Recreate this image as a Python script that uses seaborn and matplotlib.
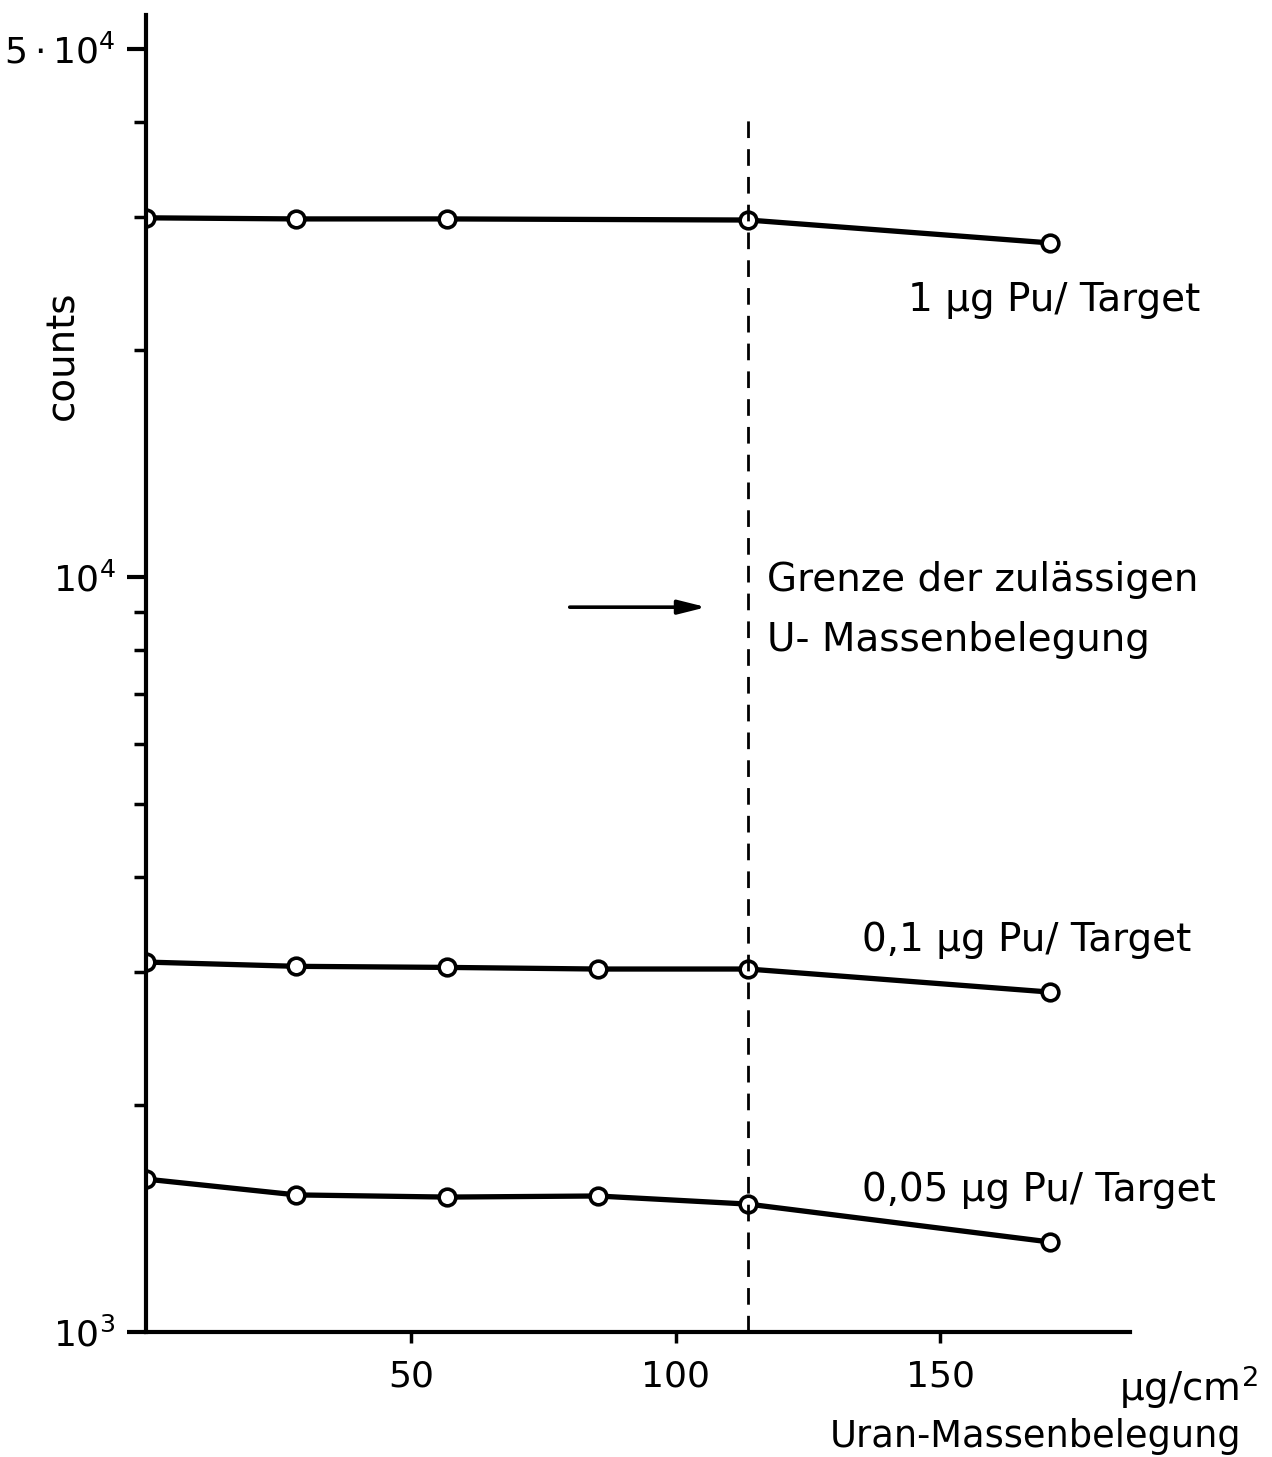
import matplotlib
matplotlib.use("Agg")
import matplotlib.pyplot as plt
import matplotlib.ticker as mticker
import seaborn as sns
import pandas as pd
import numpy as np

# ---- data ----
x_top = [0, 28.4, 56.8, 113.7, 170.6]
y_top = [29900, 29800, 29800, 29700, 27700]

x_mid = [0, 28.4, 56.8, 85.3, 113.7, 170.6]
y_mid = [3090, 3050, 3040, 3025, 3025, 2820]

x_low = [0, 28.4, 56.8, 85.3, 113.7, 170.6]
y_low = [1594, 1519, 1509, 1514, 1477, 1316]

series_labels = ["1 µg Pu/ Target", "0,1 µg Pu/ Target", "0,05 µg Pu/ Target"]
limit_x = 113.7
x_ticks = [50, 100, 150]
y_major = [1e3, 1e4, 5e4]
y_major_labels = [r"$10^3$", r"$10^4$", r"$5\cdot10^4$"]
y_minor = [2000, 3000, 4000, 5000, 6000, 7000, 8000, 9000, 20000, 30000, 40000]

sns.set_theme(style="ticks")
plt.rcParams['font.family'] = ['DejaVu Sans']
plt.rcParams['mathtext.fontset'] = 'dejavusans'
plt.rcParams['text.color'] = 'black'
plt.rcParams['axes.labelcolor'] = 'black'
plt.rcParams['xtick.color'] = 'black'
plt.rcParams['ytick.color'] = 'black'

fig = plt.figure(figsize=(12.72, 14.57), dpi=100)
ax = fig.add_axes([0.1148, 0.0858, 0.888 - 0.1148, 0.9897 - 0.0858])

frames = []
for name, xs, ys in zip(series_labels, [x_top, x_mid, x_low], [y_top, y_mid, y_low]):
    frames.append(pd.DataFrame({"x": xs, "y": ys, "s": name}))
df = pd.concat(frames, ignore_index=True)

for name in series_labels:
    sub = df[df.s == name]
    sns.lineplot(data=sub, x="x", y="y", ax=ax, color="black", linewidth=3.8,
                 marker="o", markersize=12, markerfacecolor="white",
                 markeredgecolor="black", markeredgewidth=2.6, legend=False)

ax.set_yscale("log")
ax.set_xlim(0, 185.7)
ax.set_ylim(1000, 55500)

# dashed limit line
ax.plot([limit_x, limit_x], [1000, 40300], color="black", linewidth=2,
        linestyle=(0, (6, 4)))

# arrow
ax.annotate("", xy=(105.8, 9120), xytext=(80, 9120),
            arrowprops=dict(arrowstyle="-|>,head_length=1.4,head_width=0.35",
                            color="black", linewidth=2.6, shrinkA=0, shrinkB=0))

ax.text(117.3, 9900, "Grenze der zulässigen", fontsize=28, ha="left", va="center")
ax.text(117.3, 8250, "U- Massenbelegung", fontsize=28, ha="left", va="center")

ax.text(143.8, 23300, series_labels[0], fontsize=28, ha="left", va="center")
ax.text(135.1, 3300, series_labels[1], fontsize=28, ha="left", va="center")
ax.text(135.1, 1542, series_labels[2], fontsize=28, ha="left", va="center")

# ticks
ax.yaxis.set_major_locator(mticker.FixedLocator(y_major))
ax.yaxis.set_major_formatter(mticker.FixedFormatter(y_major_labels))
ax.yaxis.set_minor_locator(mticker.FixedLocator(y_minor))
ax.yaxis.set_minor_formatter(mticker.NullFormatter())
ax.set_xticks(x_ticks)
ax.set_xticklabels([str(t) for t in x_ticks])
ax.tick_params(axis="y", which="major", length=14, width=3, labelsize=26, pad=8, direction="out")
ax.tick_params(axis="y", which="minor", length=9, width=2.5, direction="out")
ax.tick_params(axis="x", which="major", length=8, width=2.5, labelsize=26, pad=12, direction="out")

sns.despine(ax=ax)
for sp in ["left", "bottom"]:
    ax.spines[sp].set_linewidth(3)
    ax.spines[sp].set_color("black")

ax.set_xlabel("")
ax.set_ylabel("counts", fontsize=28)
ax.yaxis.set_label_coords(-0.066, 0.742)

fig.text(0.880, 0.048, "µg/cm$^2$", fontsize=28, ha="left", va="center")
fig.text(0.652, 0.014, "Uran-Massenbelegung", fontsize=26.5, ha="left", va="center")

fig.savefig("out.png", dpi=100, facecolor="white")
